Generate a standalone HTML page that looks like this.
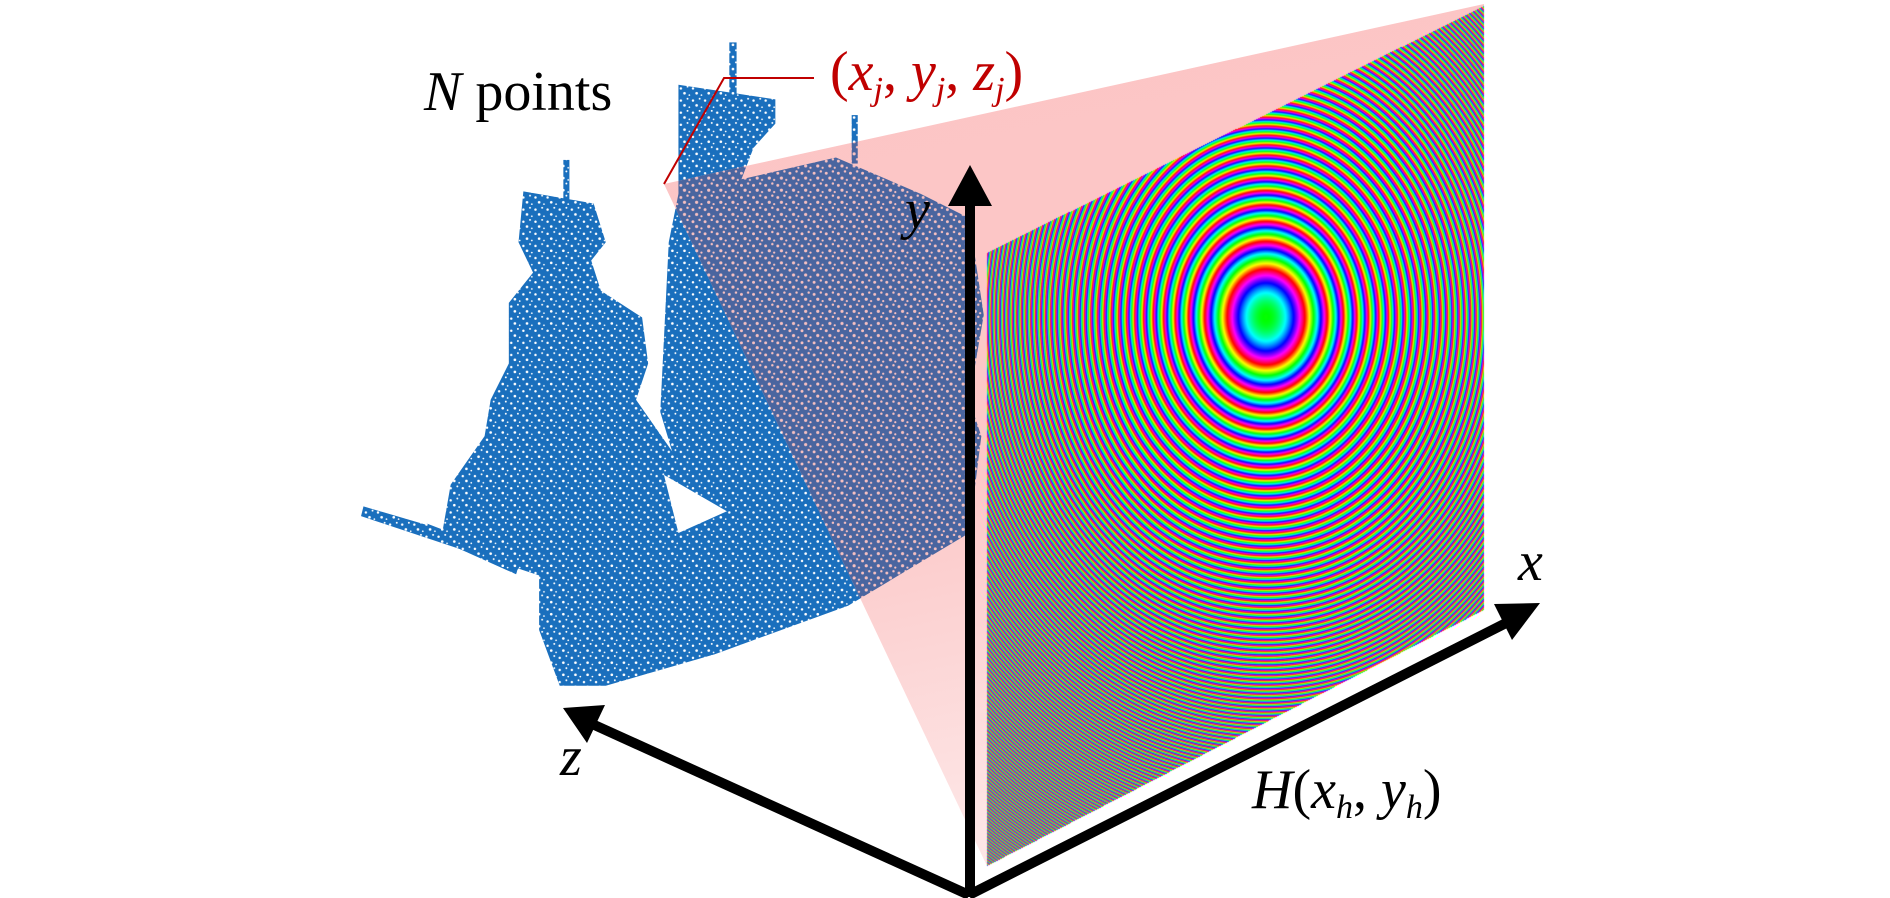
<!DOCTYPE html>
<html><head><meta charset="utf-8">
<style>
html,body{margin:0;padding:0;background:#fff;}
#wrap{position:relative;width:1890px;height:898px;overflow:hidden;}
svg,canvas{position:absolute;left:0;top:0;}
.t{font-family:"Liberation Serif",serif;}
</style></head>
<body>
<div id="wrap">
<svg width="1890" height="898">
  <defs>
    <pattern id="dots" width="10" height="10" patternUnits="userSpaceOnUse">
      <rect width="10" height="10" fill="#1a6fbd"/>
      <circle cx="2" cy="3" r="1" fill="#fff"/>
      <circle cx="7.5" cy="1.5" r="0.8" fill="#fff"/>
      <circle cx="5" cy="7" r="1.1" fill="#fff"/>
      <circle cx="9" cy="8.5" r="0.7" fill="#fff"/>
    </pattern>
    <pattern id="dots2" width="10" height="10" patternUnits="userSpaceOnUse">
      <rect width="10" height="10" fill="#4a659f"/>
      <circle cx="2" cy="3" r="1.2" fill="#f6c0c0"/>
      <circle cx="7.5" cy="1.5" r="1" fill="#f6c0c0"/>
      <circle cx="5" cy="7" r="1.3" fill="#f6c0c0"/>
      <circle cx="9" cy="8.5" r="0.9" fill="#f6c0c0"/>
    </pattern>
    <linearGradient id="pinkg" x1="0" y1="0" x2="0.2" y2="1">
      <stop offset="0" stop-color="#fcc4c4"/>
      <stop offset="0.6" stop-color="#fcc8c8"/>
      <stop offset="1" stop-color="#fde6e6"/>
    </linearGradient>
    <clipPath id="coneclip"><polygon points="664,184 1484,4 1484,610 987,866"/></clipPath>
    <g id="ship">
      <polygon points="432,158 490,168 500,200 488,215 496,240 530,262 535,300 525,330 560,380 600,440 540,478 450,472 410,452 365,440 372,400 400,360 405,330 420,300 420,250 440,225 428,200"/>
      <rect x="465" y="132" width="5" height="40"/>
      <polygon points="560,70 640,82 640,102 622,122 612,148 690,130 760,160 800,180 812,260 800,330 810,360 800,440 700,500 590,540 500,566 462,566 445,520 445,462 540,430 560,390 545,340 548,280 552,200 560,160"/>
      <rect x="602" y="35" width="6" height="50"/>
      <rect x="703" y="95" width="5" height="40"/>
      <polygon points="300,418 450,462 448,476 298,426"/>
      <polygon points="352,432 430,462 426,474 350,440"/>
    </g>
  </defs>
  <g transform="scale(1.2115)" fill="url(#dots)">
    <use href="#ship"/>
    <polygon points="548,392 600,422 560,440" fill="#fff"/>
  </g>
  <polygon points="664,184 1484,4 1484,610 987,866" fill="url(#pinkg)"/>
  <g clip-path="url(#coneclip)">
    <g transform="scale(1.2115)" fill="url(#dots2)"><use href="#ship"/></g>
  </g>
</svg>
<canvas id="holo" width="1890" height="898"></canvas>
<svg width="1890" height="898">
  <g stroke="#000" stroke-width="10" fill="none">
    <line x1="970" y1="897" x2="970" y2="195"/>
    <line x1="969" y1="895" x2="1512" y2="620"/>
    <line x1="969" y1="895" x2="590" y2="723"/>
  </g>
  <polygon points="970,165 948,206 992,206" fill="#000"/>
  <polygon points="1540,603 1494,604 1512,640" fill="#000"/>
  <polygon points="563,708 587,743 605,705" fill="#000"/>
  <polyline points="664,184 724,78 814,78" stroke="#c00000" stroke-width="2" fill="none"/>
  <text class="t" x="424" y="110" font-size="56"><tspan font-style="italic">N</tspan> points</text>
  <text class="t" x="830" y="90" font-size="56" fill="#c00000">(<tspan font-style="italic">x</tspan><tspan font-style="italic" font-size="34" dy="10">j</tspan><tspan dy="-10">, </tspan><tspan font-style="italic">y</tspan><tspan font-style="italic" font-size="34" dy="10">j</tspan><tspan dy="-10">, </tspan><tspan font-style="italic">z</tspan><tspan font-style="italic" font-size="34" dy="10">j</tspan><tspan dy="-10">)</tspan></text>
  <text class="t" x="905" y="228" font-size="56" font-style="italic">y</text>
  <text class="t" x="1518" y="580" font-size="56" font-style="italic">x</text>
  <text class="t" x="560" y="775" font-size="56" font-style="italic">z</text>
  <text class="t" x="1252" y="808" font-size="56"><tspan font-style="italic">H</tspan>(<tspan font-style="italic">x</tspan><tspan font-style="italic" font-size="34" dy="10">h</tspan><tspan dy="-10">, </tspan><tspan font-style="italic">y</tspan><tspan font-style="italic" font-size="34" dy="10">h</tspan><tspan dy="-10">)</tspan></text>
</svg>
</div>
<script>
const quad=[[987,253],[1484,6],[1484,610],[987,866]];
const center=[1266,317];
const ringR=[30,37];
function inside(x,y){let c=false;for(let i=0,j=3;i<4;j=i++){const [xi,yi]=quad[i],[xj,yj]=quad[j];if(((yi>y)!=(yj>y))&&(x<(xj-xi)*(y-yi)/(yj-yi)+xi))c=!c;}return c;}
function hsv(h){h=((h%1)+1)%1*6;const i=Math.floor(h),f=h-i;const q=1-f;let r,g,b;
switch(i){case 0:r=1;g=f;b=0;break;case 1:r=q;g=1;b=0;break;case 2:r=0;g=1;b=f;break;case 3:r=0;g=q;b=1;break;case 4:r=f;g=0;b=1;break;default:r=1;g=0;b=q;}return [r*255,g*255,b*255];}
const cv=document.getElementById('holo');const ctx=cv.getContext('2d');
const x0=985,y0=4,w=502,h=866;
const img=ctx.createImageData(w,h);
for(let py=0;py<h;py++){for(let px=0;px<w;px++){const X=x0+px,Y=y0+py;if(!inside(X+0.5,Y+0.5))continue;
let n=0;const acc=[0,0,0];
for(let sy=0;sy<3;sy++)for(let sx=0;sx<3;sx++){const dx=(X+(sx+0.5)/3-center[0])/ringR[0],dy=(Y+(sy+0.5)/3-center[1])/ringR[1];
const ph=(dx*dx+dy*dy)*0.4+0.33;const c=hsv(ph);acc[0]+=c[0];acc[1]+=c[1];acc[2]+=c[2];n++;}
const k=(py*w+px)*4;img.data[k]=acc[0]/n;img.data[k+1]=acc[1]/n;img.data[k+2]=acc[2]/n;img.data[k+3]=255;}}
ctx.putImageData(img,x0,y0);
</script>
</body></html>
